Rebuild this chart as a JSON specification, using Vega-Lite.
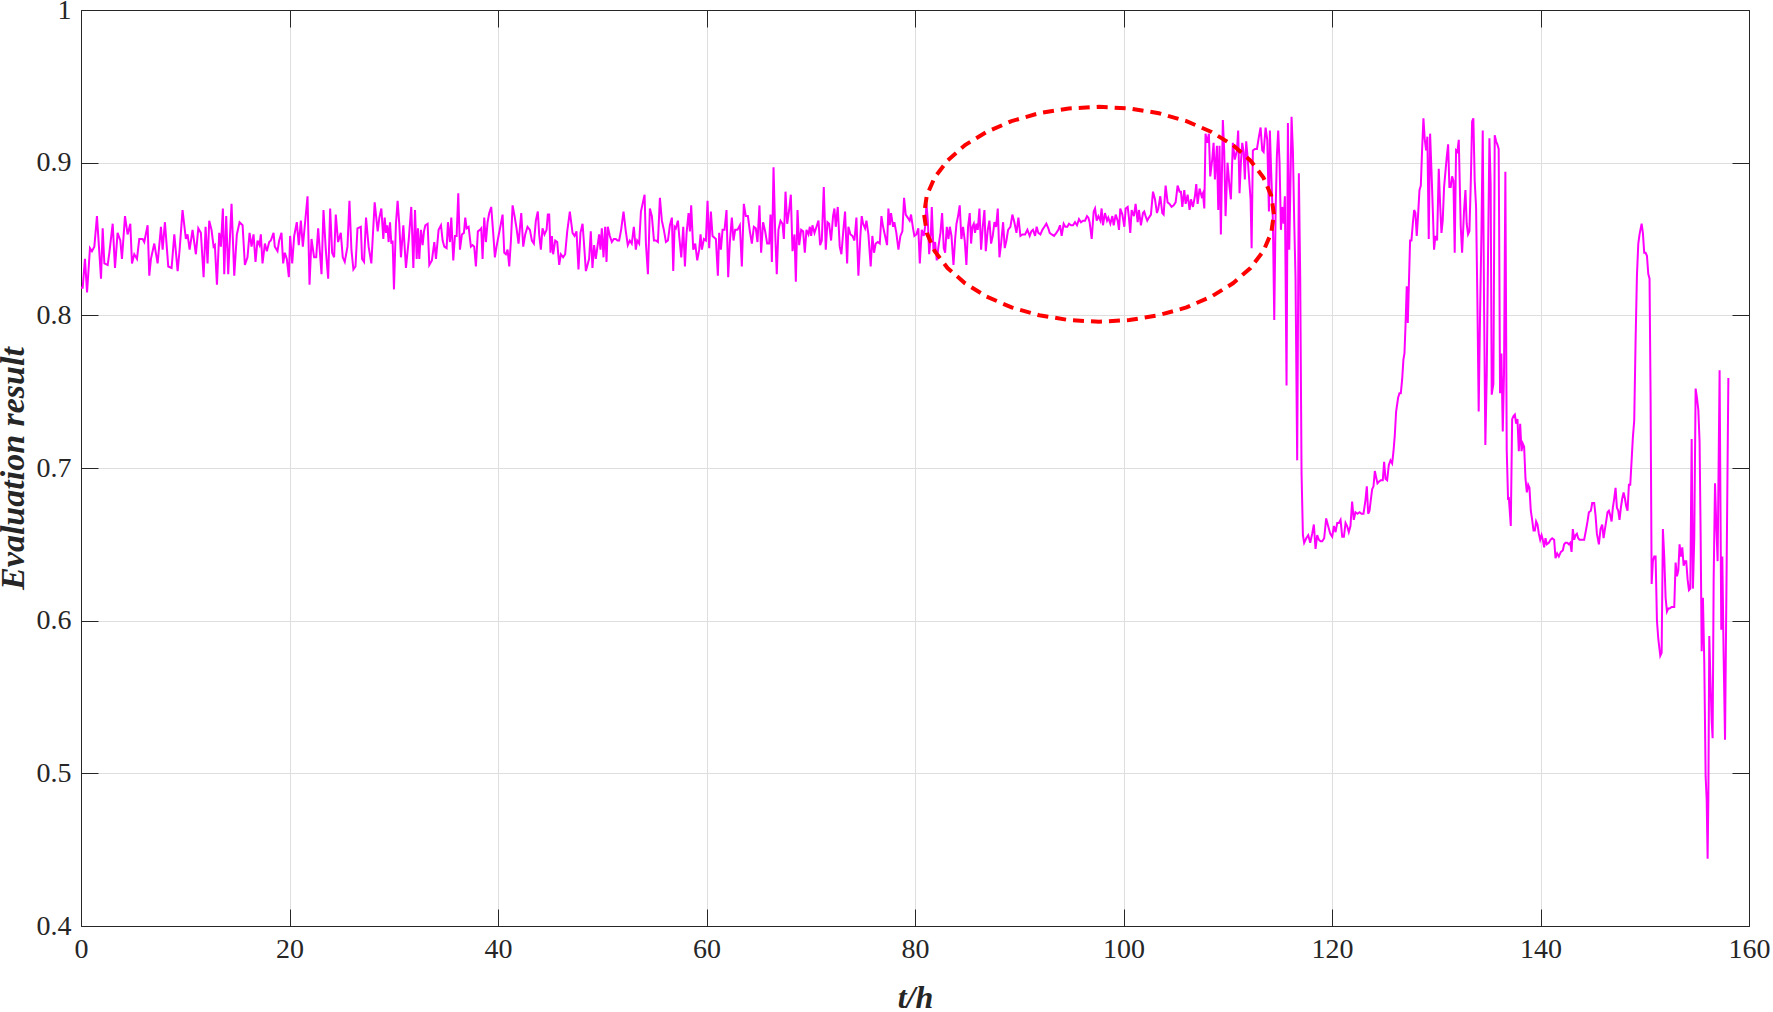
{
"$schema": "https://vega.github.io/schema/vega-lite/v6.json",
"width": 1668,
"height": 916,
"autosize": "none",
"padding": {"left": 81, "top": 10, "right": 24, "bottom": 86},
"background": "white",
"config": {
  "view": {"stroke": null},
  "font": "Liberation Serif",
  "axis": {
    "domainColor": "#262626", "domainWidth": 1, "tickColor": "#262626", "tickWidth": 1,
    "labelColor": "#262626", "labelFont": "Liberation Serif", "labelFontSize": 28,
    "titleFont": "Liberation Serif", "titleFontSize": 32, "titleFontWeight": "bold", "titleFontStyle": "italic", "titleColor": "#262626",
    "gridColor": "#dedede", "gridWidth": 1, "labelOverlap": false, "labelFlush": false
  }
},
"datasets": {
"main": [
{"t":0,"v":0.818},{"t":0.16,"v":0.818},{"t":0.38,"v":0.837},{"t":0.58,"v":0.815},{"t":0.86,"v":0.844},{"t":1.05,"v":0.842},{"t":1.28,"v":0.845},{"t":1.53,"v":0.865},{"t":1.76,"v":0.841},{"t":1.92,"v":0.824},{"t":2.08,"v":0.857},{"t":2.24,"v":0.834},{"t":2.56,"v":0.833},{"t":2.72,"v":0.841},{"t":3.04,"v":0.86},{"t":3.26,"v":0.831},{"t":3.51,"v":0.854},{"t":3.77,"v":0.849},{"t":3.93,"v":0.837},{"t":4.22,"v":0.865},{"t":4.47,"v":0.853},{"t":4.73,"v":0.86},{"t":4.89,"v":0.834},{"t":5.11,"v":0.84},{"t":5.37,"v":0.837},{"t":5.59,"v":0.85},{"t":5.91,"v":0.85},{"t":6.07,"v":0.848},{"t":6.39,"v":0.859},{"t":6.55,"v":0.826},{"t":6.71,"v":0.837},{"t":7.03,"v":0.847},{"t":7.35,"v":0.834},{"t":7.67,"v":0.858},{"t":7.83,"v":0.843},{"t":8.05,"v":0.861},{"t":8.37,"v":0.832},{"t":8.69,"v":0.831},{"t":8.95,"v":0.853},{"t":9.27,"v":0.829},{"t":9.46,"v":0.843},{"t":9.74,"v":0.869},{"t":10.06,"v":0.85},{"t":10.22,"v":0.853},{"t":10.42,"v":0.843},{"t":10.7,"v":0.856},{"t":11.02,"v":0.84},{"t":11.25,"v":0.857},{"t":11.5,"v":0.854},{"t":11.76,"v":0.825},{"t":11.95,"v":0.858},{"t":12.14,"v":0.834},{"t":12.3,"v":0.862},{"t":12.52,"v":0.856},{"t":12.72,"v":0.845},{"t":12.84,"v":0.846},{"t":13.04,"v":0.82},{"t":13.26,"v":0.854},{"t":13.42,"v":0.845},{"t":13.61,"v":0.87},{"t":13.74,"v":0.827},{"t":13.93,"v":0.865},{"t":14.12,"v":0.827},{"t":14.44,"v":0.873},{"t":14.7,"v":0.826},{"t":14.95,"v":0.853},{"t":15.21,"v":0.861},{"t":15.5,"v":0.859},{"t":15.72,"v":0.833},{"t":15.97,"v":0.838},{"t":16.17,"v":0.854},{"t":16.36,"v":0.845},{"t":16.55,"v":0.853},{"t":16.74,"v":0.835},{"t":16.93,"v":0.849},{"t":17.12,"v":0.846},{"t":17.25,"v":0.853},{"t":17.41,"v":0.834},{"t":17.64,"v":0.847},{"t":17.83,"v":0.842},{"t":18.05,"v":0.848},{"t":18.21,"v":0.849},{"t":18.47,"v":0.854},{"t":18.59,"v":0.845},{"t":18.85,"v":0.842},{"t":19.01,"v":0.849},{"t":19.23,"v":0.854},{"t":19.39,"v":0.834},{"t":19.55,"v":0.841},{"t":19.74,"v":0.837},{"t":19.94,"v":0.825},{"t":20.06,"v":0.852},{"t":20.26,"v":0.834},{"t":20.45,"v":0.852},{"t":20.7,"v":0.861},{"t":20.89,"v":0.846},{"t":21.09,"v":0.862},{"t":21.28,"v":0.845},{"t":21.47,"v":0.859},{"t":21.73,"v":0.878},{"t":21.92,"v":0.82},{"t":22.11,"v":0.85},{"t":22.36,"v":0.838},{"t":22.56,"v":0.838},{"t":22.75,"v":0.857},{"t":23.07,"v":0.827},{"t":23.26,"v":0.869},{"t":23.48,"v":0.843},{"t":23.71,"v":0.824},{"t":23.9,"v":0.87},{"t":24.09,"v":0.841},{"t":24.28,"v":0.838},{"t":24.44,"v":0.866},{"t":24.66,"v":0.848},{"t":24.92,"v":0.854},{"t":25.11,"v":0.838},{"t":25.3,"v":0.835},{"t":25.56,"v":0.845},{"t":25.75,"v":0.875},{"t":25.94,"v":0.843},{"t":26.13,"v":0.83},{"t":26.33,"v":0.832},{"t":26.52,"v":0.857},{"t":26.84,"v":0.858},
{"t":26.96,"v":0.837},{"t":27.15,"v":0.835},{"t":27.34,"v":0.864},{"t":27.59,"v":0.845},{"t":27.85,"v":0.834},{"t":28.17,"v":0.874},{"t":28.46,"v":0.855},{"t":28.62,"v":0.864},{"t":28.81,"v":0.87},{"t":29,"v":0.85},{"t":29.13,"v":0.864},{"t":29.26,"v":0.854},{"t":29.38,"v":0.859},{"t":29.51,"v":0.848},{"t":29.64,"v":0.861},{"t":29.77,"v":0.847},{"t":29.89,"v":0.849},{"t":30.02,"v":0.817},{"t":30.21,"v":0.86},{"t":30.37,"v":0.875},{"t":30.53,"v":0.86},{"t":30.69,"v":0.838},{"t":30.92,"v":0.859},{"t":31.17,"v":0.831},{"t":31.43,"v":0.849},{"t":31.68,"v":0.871},{"t":31.88,"v":0.831},{"t":32.04,"v":0.869},{"t":32.2,"v":0.837},{"t":32.32,"v":0.857},{"t":32.45,"v":0.837},{"t":32.61,"v":0.856},{"t":32.77,"v":0.846},{"t":32.9,"v":0.855},{"t":33.03,"v":0.859},{"t":33.25,"v":0.86},{"t":33.41,"v":0.833},{"t":33.66,"v":0.836},{"t":33.89,"v":0.848},{"t":34.05,"v":0.837},{"t":34.3,"v":0.856},{"t":34.53,"v":0.859},{"t":34.69,"v":0.849},{"t":34.85,"v":0.845},{"t":35.07,"v":0.844},{"t":35.2,"v":0.861},{"t":35.39,"v":0.848},{"t":35.52,"v":0.864},{"t":35.71,"v":0.836},{"t":35.87,"v":0.852},{"t":36.03,"v":0.852},{"t":36.19,"v":0.88},{"t":36.35,"v":0.843},{"t":36.54,"v":0.853},{"t":36.73,"v":0.854},{"t":36.86,"v":0.864},{"t":36.99,"v":0.857},{"t":37.18,"v":0.858},{"t":37.4,"v":0.845},{"t":37.56,"v":0.846},{"t":37.72,"v":0.845},{"t":37.88,"v":0.832},{"t":38.07,"v":0.855},{"t":38.27,"v":0.856},{"t":38.39,"v":0.857},{"t":38.52,"v":0.837},{"t":38.68,"v":0.864},{"t":38.84,"v":0.848},{"t":39,"v":0.861},{"t":39.16,"v":0.867},{"t":39.35,"v":0.871},{"t":39.54,"v":0.854},{"t":39.7,"v":0.838},{"t":39.86,"v":0.845},{"t":40.05,"v":0.852},{"t":40.25,"v":0.859},{"t":40.44,"v":0.866},{"t":40.6,"v":0.841},{"t":40.76,"v":0.84},{"t":40.92,"v":0.843},{"t":41.08,"v":0.832},{"t":41.24,"v":0.849},{"t":41.4,"v":0.872},{"t":41.59,"v":0.865},{"t":41.78,"v":0.857},{"t":41.97,"v":0.847},{"t":42.23,"v":0.867},{"t":42.42,"v":0.845},{"t":42.61,"v":0.853},{"t":42.83,"v":0.858},{"t":43.06,"v":0.856},{"t":43.25,"v":0.849},{"t":43.44,"v":0.847},{"t":43.63,"v":0.862},{"t":43.82,"v":0.868},{"t":43.95,"v":0.853},{"t":44.11,"v":0.843},{"t":44.27,"v":0.857},{"t":44.46,"v":0.853},{"t":44.66,"v":0.856},{"t":44.78,"v":0.866},{"t":44.91,"v":0.866},{"t":45.04,"v":0.841},{"t":45.17,"v":0.852},{"t":45.29,"v":0.84},{"t":45.49,"v":0.849},{"t":45.68,"v":0.848},{"t":45.87,"v":0.833},{"t":46.03,"v":0.84},{"t":46.25,"v":0.838},{"t":46.44,"v":0.84},{"t":46.64,"v":0.855},{"t":46.89,"v":0.868},{"t":47.15,"v":0.854},{"t":47.34,"v":0.852},{"t":47.53,"v":0.855},{"t":47.72,"v":0.83},{"t":47.91,"v":0.854},{"t":48.11,"v":0.86},{"t":48.23,"v":0.849},{"t":48.43,"v":0.829},{"t":48.55,"v":0.832},{"t":48.74,"v":0.837},{"t":48.9,"v":0.855},{"t":49.06,"v":0.831},{"t":49.22,"v":0.846},{"t":49.38,"v":0.837},{"t":49.54,"v":0.845},{"t":49.7,"v":0.853},{"t":49.83,"v":0.843},{"t":49.96,"v":0.857},{"t":50.12,"v":0.838},{"t":50.28,"v":0.858},{"t":50.41,"v":0.835},{"t":50.53,"v":0.858},{"t":50.73,"v":0.852},{"t":50.92,"v":0.848},{"t":51.11,"v":0.85},{"t":51.3,"v":0.85},{"t":51.46,"v":0.849},{"t":51.62,"v":0.849},{"t":51.81,"v":0.856},{"t":52.04,"v":0.868},{"t":52.26,"v":0.855},{"t":52.45,"v":0.846},{"t":52.64,"v":0.849},{"t":52.83,"v":0.847},{"t":53.03,"v":0.858},{"t":53.22,"v":0.843},{"t":53.35,"v":0.849},{"t":53.54,"v":0.847},
{"t":53.71,"v":0.868},{"t":53.87,"v":0.873},{"t":54.06,"v":0.879},{"t":54.19,"v":0.847},{"t":54.38,"v":0.827},{"t":54.57,"v":0.87},{"t":54.76,"v":0.865},{"t":54.96,"v":0.849},{"t":55.15,"v":0.849},{"t":55.34,"v":0.848},{"t":55.53,"v":0.877},{"t":55.72,"v":0.862},{"t":55.91,"v":0.856},{"t":56.11,"v":0.848},{"t":56.3,"v":0.849},{"t":56.49,"v":0.859},{"t":56.68,"v":0.864},{"t":56.81,"v":0.829},{"t":56.94,"v":0.858},{"t":57.06,"v":0.857},{"t":57.26,"v":0.862},{"t":57.38,"v":0.852},{"t":57.58,"v":0.838},{"t":57.77,"v":0.858},{"t":57.93,"v":0.832},{"t":58.09,"v":0.854},{"t":58.28,"v":0.867},{"t":58.41,"v":0.855},{"t":58.53,"v":0.872},{"t":58.73,"v":0.843},{"t":58.92,"v":0.847},{"t":59.11,"v":0.836},{"t":59.3,"v":0.843},{"t":59.43,"v":0.853},{"t":59.56,"v":0.843},{"t":59.75,"v":0.85},{"t":59.94,"v":0.849},{"t":60.1,"v":0.875},{"t":60.26,"v":0.844},{"t":60.42,"v":0.868},{"t":60.58,"v":0.852},{"t":60.9,"v":0.85},{"t":61.09,"v":0.826},{"t":61.22,"v":0.854},{"t":61.38,"v":0.843},{"t":61.54,"v":0.856},{"t":61.73,"v":0.856},{"t":61.92,"v":0.869},{"t":62.08,"v":0.825},{"t":62.24,"v":0.848},{"t":62.43,"v":0.864},{"t":62.59,"v":0.849},{"t":62.75,"v":0.856},{"t":62.97,"v":0.856},{"t":63.2,"v":0.859},{"t":63.39,"v":0.832},{"t":63.58,"v":0.873},{"t":63.77,"v":0.865},{"t":63.97,"v":0.865},{"t":64.16,"v":0.855},{"t":64.35,"v":0.847},{"t":64.54,"v":0.858},{"t":64.73,"v":0.857},{"t":64.89,"v":0.848},{"t":65.08,"v":0.872},{"t":65.24,"v":0.841},{"t":65.43,"v":0.861},{"t":65.63,"v":0.855},{"t":65.82,"v":0.847},{"t":66.01,"v":0.847},{"t":66.14,"v":0.866},{"t":66.27,"v":0.835},{"t":66.43,"v":0.897},{"t":66.59,"v":0.854},{"t":66.74,"v":0.827},{"t":66.9,"v":0.856},{"t":67.1,"v":0.862},{"t":67.29,"v":0.86},{"t":67.42,"v":0.85},{"t":67.58,"v":0.881},{"t":67.74,"v":0.86},{"t":67.93,"v":0.869},{"t":68.09,"v":0.879},{"t":68.25,"v":0.842},{"t":68.44,"v":0.853},{"t":68.57,"v":0.822},{"t":68.73,"v":0.869},{"t":68.89,"v":0.846},{"t":69.08,"v":0.856},{"t":69.27,"v":0.855},{"t":69.43,"v":0.841},{"t":69.59,"v":0.856},{"t":69.78,"v":0.853},{"t":69.91,"v":0.858},{"t":70.04,"v":0.852},{"t":70.16,"v":0.859},{"t":70.36,"v":0.854},{"t":70.55,"v":0.858},{"t":70.74,"v":0.862},{"t":70.9,"v":0.846},{"t":71.06,"v":0.849},{"t":71.25,"v":0.884},{"t":71.44,"v":0.843},{"t":71.6,"v":0.861},{"t":71.76,"v":0.86},{"t":71.95,"v":0.849},{"t":72.14,"v":0.865},{"t":72.27,"v":0.87},{"t":72.4,"v":0.858},{"t":72.59,"v":0.871},{"t":72.78,"v":0.845},{"t":72.94,"v":0.84},{"t":73.13,"v":0.856},{"t":73.29,"v":0.868},{"t":73.49,"v":0.834},{"t":73.61,"v":0.858},{"t":73.81,"v":0.853},{"t":74,"v":0.852},{"t":74.19,"v":0.849},{"t":74.38,"v":0.864},{"t":74.57,"v":0.826},{"t":74.76,"v":0.852},{"t":74.89,"v":0.865},{"t":75.02,"v":0.86},{"t":75.21,"v":0.857},{"t":75.34,"v":0.862},{"t":75.53,"v":0.853},{"t":75.75,"v":0.832},{"t":75.91,"v":0.852},{"t":76.07,"v":0.841},{"t":76.23,"v":0.847},{"t":76.43,"v":0.848},{"t":76.62,"v":0.847},{"t":76.78,"v":0.865},{"t":76.94,"v":0.858},{"t":77.13,"v":0.852},{"t":77.32,"v":0.846},{"t":77.45,"v":0.87},{"t":77.58,"v":0.859},{"t":77.7,"v":0.867},{"t":77.9,"v":0.858},{"t":78.02,"v":0.861},{"t":78.21,"v":0.854},{"t":78.41,"v":0.843},{"t":78.6,"v":0.852},{"t":78.79,"v":0.855},{"t":78.95,"v":0.877},{"t":79.11,"v":0.866},{"t":79.3,"v":0.864},{"t":79.49,"v":0.862},{"t":79.62,"v":0.866},{"t":79.81,"v":0.857},{"t":79.94,"v":0.852},{"t":80.13,"v":0.853},{"t":80.32,"v":0.857},
{"t":80.46,"v":0.834},{"t":80.65,"v":0.856},{"t":80.84,"v":0.852},{"t":80.97,"v":0.858},{"t":81.1,"v":0.873},{"t":81.23,"v":0.862},{"t":81.36,"v":0.84},{"t":81.52,"v":0.853},{"t":81.61,"v":0.871},{"t":81.77,"v":0.843},{"t":81.93,"v":0.848},{"t":82.09,"v":0.836},{"t":82.25,"v":0.845},{"t":82.44,"v":0.854},{"t":82.6,"v":0.867},{"t":82.76,"v":0.844},{"t":82.89,"v":0.841},{"t":83.05,"v":0.858},{"t":83.21,"v":0.85},{"t":83.34,"v":0.858},{"t":83.5,"v":0.852},{"t":83.69,"v":0.833},{"t":83.85,"v":0.85},{"t":83.98,"v":0.86},{"t":84.13,"v":0.865},{"t":84.29,"v":0.872},{"t":84.45,"v":0.85},{"t":84.61,"v":0.858},{"t":84.77,"v":0.849},{"t":84.93,"v":0.833},{"t":85.09,"v":0.858},{"t":85.25,"v":0.867},{"t":85.38,"v":0.847},{"t":85.51,"v":0.858},{"t":85.64,"v":0.86},{"t":85.76,"v":0.854},{"t":85.89,"v":0.86},{"t":86.02,"v":0.856},{"t":86.18,"v":0.87},{"t":86.34,"v":0.843},{"t":86.5,"v":0.858},{"t":86.66,"v":0.869},{"t":86.79,"v":0.842},{"t":86.98,"v":0.856},{"t":87.14,"v":0.862},{"t":87.3,"v":0.847},{"t":87.46,"v":0.852},{"t":87.62,"v":0.861},{"t":87.78,"v":0.858},{"t":87.94,"v":0.87},{"t":88.1,"v":0.838},{"t":88.26,"v":0.847},{"t":88.45,"v":0.861},{"t":88.61,"v":0.844},{"t":88.77,"v":0.849},{"t":88.93,"v":0.856},{"t":89.15,"v":0.858},{"t":89.34,"v":0.866},{"t":89.53,"v":0.861},{"t":89.73,"v":0.854},{"t":89.92,"v":0.864},{"t":90.11,"v":0.852},{"t":90.3,"v":0.853},{"t":90.56,"v":0.853},{"t":90.78,"v":0.856},{"t":91,"v":0.852},{"t":91.16,"v":0.855},{"t":91.32,"v":0.856},{"t":91.52,"v":0.852},{"t":91.67,"v":0.858},{"t":91.83,"v":0.854},{"t":92.03,"v":0.853},{"t":92.22,"v":0.856},{"t":92.41,"v":0.858},{"t":92.6,"v":0.86},{"t":92.79,"v":0.857},{"t":92.92,"v":0.854},{"t":93.11,"v":0.853},{"t":93.34,"v":0.852},{"t":93.56,"v":0.854},{"t":93.75,"v":0.856},{"t":93.91,"v":0.859},{"t":94.07,"v":0.852},{"t":94.26,"v":0.86},{"t":94.42,"v":0.858},{"t":94.61,"v":0.858},{"t":94.77,"v":0.86},{"t":94.97,"v":0.859},{"t":95.16,"v":0.859},{"t":95.35,"v":0.861},{"t":95.54,"v":0.859},{"t":95.73,"v":0.863},{"t":95.92,"v":0.861},{"t":96.12,"v":0.862},{"t":96.31,"v":0.862},{"t":96.5,"v":0.865},{"t":96.63,"v":0.864},{"t":96.75,"v":0.861},{"t":96.95,"v":0.85},{"t":97.14,"v":0.868},{"t":97.27,"v":0.87},{"t":97.43,"v":0.862},{"t":97.59,"v":0.865},{"t":97.78,"v":0.862},{"t":97.9,"v":0.87},{"t":98.03,"v":0.859},{"t":98.22,"v":0.867},{"t":98.42,"v":0.862},{"t":98.54,"v":0.864},{"t":98.74,"v":0.86},{"t":98.93,"v":0.865},{"t":99.06,"v":0.859},{"t":99.25,"v":0.866},{"t":99.44,"v":0.862},{"t":99.57,"v":0.856},{"t":99.69,"v":0.87},{"t":99.89,"v":0.866},{"t":100.08,"v":0.858},{"t":100.21,"v":0.87},{"t":100.4,"v":0.871},{"t":100.52,"v":0.864},{"t":100.65,"v":0.854},{"t":100.78,"v":0.869},{"t":101,"v":0.865},{"t":101.16,"v":0.873},{"t":101.36,"v":0.861},{"t":101.48,"v":0.869},{"t":101.67,"v":0.859},{"t":101.87,"v":0.867},{"t":101.99,"v":0.868},{"t":102.12,"v":0.865},{"t":102.28,"v":0.862},{"t":102.44,"v":0.864},{"t":102.63,"v":0.866},{"t":102.83,"v":0.881},{"t":103.02,"v":0.876},{"t":103.21,"v":0.867},{"t":103.34,"v":0.87},{"t":103.53,"v":0.878},{"t":103.72,"v":0.867},{"t":103.85,"v":0.866},{"t":104.04,"v":0.885},{"t":104.23,"v":0.874},{"t":104.42,"v":0.873},{"t":104.61,"v":0.871},{"t":104.81,"v":0.872},{"t":105,"v":0.874},{"t":105.19,"v":0.885},{"t":105.38,"v":0.881},{"t":105.51,"v":0.881},{"t":105.64,"v":0.871},{"t":105.83,"v":0.882},{"t":105.96,"v":0.873},{"t":106.15,"v":0.879},{"t":106.34,"v":0.869},{"t":106.47,"v":0.876},{"t":106.66,"v":0.871},{"t":106.85,"v":0.878},{"t":106.98,"v":0.886},{"t":107.11,"v":0.873},{"t":107.3,"v":0.883},{"t":107.49,"v":0.878},{"t":107.62,"v":0.88},{"t":107.75,"v":0.87},{"t":107.87,"v":0.919},{"t":108.03,"v":0.913},{"t":108.19,"v":0.919},{"t":108.32,"v":0.891},{"t":108.51,"v":0.902},{"t":108.64,"v":0.913},{"t":108.77,"v":0.889},{"t":108.96,"v":0.911},{"t":109.09,"v":0.869},{"t":109.21,"v":0.911},{"t":109.34,"v":0.853},{"t":109.53,"v":0.928},{"t":109.66,"v":0.908},{"t":109.79,"v":0.865},{"t":109.98,"v":0.9},{"t":110.17,"v":0.884},{"t":110.3,"v":0.876},{"t":110.49,"v":0.913},{"t":110.68,"v":0.902},{"t":110.88,"v":0.908},{"t":111,"v":0.921},{"t":111.13,"v":0.88},{"t":111.26,"v":0.9},{"t":111.39,"v":0.913},{"t":111.52,"v":0.907},{"t":111.64,"v":0.889},{"t":111.77,"v":0.914},{"t":111.9,"v":0.904},
{"t":112.19,"v":0.876},{"t":112.29,"v":0.844},{"t":112.41,"v":0.908},{"t":112.61,"v":0.909},{"t":112.8,"v":0.909},{"t":112.99,"v":0.917},{"t":113.15,"v":0.923},{"t":113.31,"v":0.908},{"t":113.44,"v":0.907},{"t":113.63,"v":0.923},{"t":113.79,"v":0.915},{"t":113.95,"v":0.868},{"t":114.04,"v":0.921},{"t":114.17,"v":0.893},{"t":114.33,"v":0.862},{"t":114.46,"v":0.797},{"t":114.59,"v":0.867},{"t":114.71,"v":0.904},{"t":114.84,"v":0.921},{"t":114.97,"v":0.9},{"t":115.1,"v":0.856},{"t":115.22,"v":0.871},{"t":115.35,"v":0.86},{"t":115.48,"v":0.878},{"t":115.64,"v":0.754},{"t":115.77,"v":0.926},{"t":115.9,"v":0.843},{"t":116.02,"v":0.889},{"t":116.12,"v":0.93},{"t":116.25,"v":0.908},{"t":116.38,"v":0.86},{"t":116.5,"v":0.825},{"t":116.66,"v":0.705},{"t":116.82,"v":0.893},{"t":116.95,"v":0.825},{"t":117.08,"v":0.696},{"t":117.21,"v":0.656},{"t":117.33,"v":0.651},{"t":117.53,"v":0.654},{"t":117.72,"v":0.656},{"t":117.91,"v":0.651},{"t":118.1,"v":0.657},{"t":118.26,"v":0.663},{"t":118.42,"v":0.647},{"t":118.58,"v":0.656},{"t":118.74,"v":0.653},{"t":118.9,"v":0.652},{"t":119.06,"v":0.652},{"t":119.25,"v":0.654},{"t":119.44,"v":0.667},{"t":119.63,"v":0.662},{"t":119.83,"v":0.657},{"t":120.02,"v":0.655},{"t":120.18,"v":0.662},{"t":120.34,"v":0.658},{"t":120.5,"v":0.664},{"t":120.66,"v":0.664},{"t":120.82,"v":0.666},{"t":120.98,"v":0.655},{"t":121.14,"v":0.655},{"t":121.3,"v":0.664},{"t":121.45,"v":0.662},{"t":121.61,"v":0.658},{"t":121.77,"v":0.662},{"t":121.93,"v":0.678},{"t":122.09,"v":0.666},{"t":122.25,"v":0.671},{"t":122.45,"v":0.67},{"t":122.64,"v":0.671},{"t":122.83,"v":0.67},{"t":123.02,"v":0.67},{"t":123.21,"v":0.679},{"t":123.34,"v":0.688},{"t":123.47,"v":0.67},{"t":123.6,"v":0.672},{"t":123.72,"v":0.679},{"t":123.85,"v":0.686},{"t":123.98,"v":0.688},{"t":124.11,"v":0.698},{"t":124.23,"v":0.694},{"t":124.36,"v":0.69},{"t":124.49,"v":0.691},{"t":124.68,"v":0.692},{"t":124.87,"v":0.692},{"t":125,"v":0.704},{"t":125.13,"v":0.693},{"t":125.29,"v":0.692},{"t":125.45,"v":0.702},{"t":125.61,"v":0.705},{"t":125.77,"v":0.703},{"t":125.9,"v":0.711},{"t":126.02,"v":0.721},{"t":126.15,"v":0.737},{"t":126.34,"v":0.746},{"t":126.47,"v":0.749},{"t":126.6,"v":0.749},{"t":126.73,"v":0.758},{"t":126.85,"v":0.771},{"t":126.95,"v":0.775},{"t":127.05,"v":0.793},{"t":127.17,"v":0.819},{"t":127.27,"v":0.795},{"t":127.37,"v":0.819},{"t":127.49,"v":0.849},{"t":127.62,"v":0.849},{"t":127.75,"v":0.86},{"t":127.88,"v":0.869},{"t":128,"v":0.867},{"t":128.13,"v":0.852},{"t":128.26,"v":0.866},{"t":128.39,"v":0.882},{"t":128.52,"v":0.885},{"t":128.64,"v":0.908},{"t":128.77,"v":0.929},{"t":128.9,"v":0.915},{"t":129.03,"v":0.908},{"t":129.15,"v":0.917},{"t":129.28,"v":0.85},{"t":129.41,"v":0.919},{"t":129.54,"v":0.895},{"t":129.67,"v":0.869},{"t":129.79,"v":0.843},{"t":129.92,"v":0.852},{"t":130.08,"v":0.849},{"t":130.24,"v":0.896},{"t":130.37,"v":0.873},{"t":130.5,"v":0.854},{"t":130.62,"v":0.862},{"t":130.75,"v":0.884},{"t":130.88,"v":0.894},{"t":131.01,"v":0.904},{"t":131.14,"v":0.912},{"t":131.26,"v":0.884},{"t":131.39,"v":0.884},{"t":131.52,"v":0.891},{"t":131.65,"v":0.888},{"t":131.77,"v":0.841},{"t":131.9,"v":0.908},{"t":132.03,"v":0.907},{"t":132.16,"v":0.915},{"t":132.35,"v":0.858},{"t":132.48,"v":0.841},{"t":132.67,"v":0.869},{"t":132.8,"v":0.882},{"t":132.92,"v":0.86},{"t":133.05,"v":0.853},{"t":133.18,"v":0.855},{"t":133.31,"v":0.886},{"t":133.44,"v":0.927},{"t":133.56,"v":0.929},{"t":133.69,"v":0.888},{"t":133.82,"v":0.871},{"t":133.95,"v":0.808},{"t":134.07,"v":0.737},{"t":134.2,"v":0.799},{"t":134.33,"v":0.852},{"t":134.46,"v":0.921},{"t":134.59,"v":0.804},{"t":134.71,"v":0.715},{"t":134.84,"v":0.76},{"t":134.97,"v":0.841},{"t":135.1,"v":0.916},{"t":135.22,"v":0.886},{"t":135.32,"v":0.748},{"t":135.48,"v":0.755},{"t":135.61,"v":0.918},{"t":135.74,"v":0.914},{"t":135.86,"v":0.912},{"t":135.99,"v":0.909},{"t":136.12,"v":0.749},{"t":136.25,"v":0.775},{"t":136.38,"v":0.724},{"t":136.5,"v":0.762},{"t":136.63,"v":0.894},{"t":136.76,"v":0.712},{"t":136.89,"v":0.679},
{"t":136.96,"v":0.681},{"t":137.15,"v":0.662},{"t":137.28,"v":0.732},{"t":137.41,"v":0.734},{"t":137.54,"v":0.735},{"t":137.66,"v":0.729},{"t":137.79,"v":0.732},{"t":137.92,"v":0.711},{"t":138.05,"v":0.729},{"t":138.18,"v":0.711},{"t":138.3,"v":0.716},{"t":138.43,"v":0.714},{"t":138.56,"v":0.693},{"t":138.69,"v":0.684},{"t":138.82,"v":0.689},{"t":138.94,"v":0.687},{"t":139.07,"v":0.672},{"t":139.2,"v":0.666},{"t":139.33,"v":0.659},{"t":139.46,"v":0.659},{"t":139.58,"v":0.665},{"t":139.71,"v":0.663},{"t":139.84,"v":0.657},{"t":139.97,"v":0.653},{"t":140.1,"v":0.656},{"t":140.22,"v":0.653},{"t":140.35,"v":0.648},{"t":140.48,"v":0.654},{"t":140.61,"v":0.65},{"t":140.8,"v":0.651},{"t":140.96,"v":0.653},{"t":141.12,"v":0.654},{"t":141.31,"v":0.653},{"t":141.44,"v":0.641},{"t":141.6,"v":0.644},{"t":141.76,"v":0.642},{"t":141.95,"v":0.645},{"t":142.14,"v":0.646},{"t":142.27,"v":0.65},{"t":142.4,"v":0.651},{"t":142.56,"v":0.651},{"t":142.72,"v":0.65},{"t":142.85,"v":0.651},{"t":142.98,"v":0.645},{"t":143.1,"v":0.66},{"t":143.23,"v":0.653},{"t":143.36,"v":0.656},{"t":143.49,"v":0.657},{"t":143.62,"v":0.654},{"t":143.74,"v":0.653},{"t":144,"v":0.653},{"t":144.19,"v":0.653},{"t":144.38,"v":0.66},{"t":144.51,"v":0.665},{"t":144.64,"v":0.671},{"t":144.83,"v":0.672},{"t":144.96,"v":0.677},{"t":145.15,"v":0.677},{"t":145.28,"v":0.669},{"t":145.41,"v":0.657},{"t":145.6,"v":0.65},{"t":145.76,"v":0.66},{"t":145.92,"v":0.663},{"t":146.05,"v":0.654},{"t":146.18,"v":0.66},{"t":146.3,"v":0.665},{"t":146.43,"v":0.671},{"t":146.56,"v":0.672},{"t":146.69,"v":0.669},{"t":146.82,"v":0.665},{"t":146.94,"v":0.674},{"t":147.07,"v":0.68},{"t":147.2,"v":0.687},{"t":147.33,"v":0.674},{"t":147.46,"v":0.672},{"t":147.58,"v":0.666},{"t":147.71,"v":0.674},{"t":147.84,"v":0.68},{"t":147.97,"v":0.684},{"t":148.1,"v":0.68},{"t":148.22,"v":0.675},{"t":148.35,"v":0.672},{"t":148.48,"v":0.689},{"t":148.61,"v":0.689},{"t":148.74,"v":0.705},{"t":148.86,"v":0.72},{"t":148.99,"v":0.731},{"t":149.12,"v":0.783},{"t":149.25,"v":0.826},{"t":149.38,"v":0.847},{"t":149.5,"v":0.853},{"t":149.7,"v":0.86},{"t":149.82,"v":0.854},{"t":149.95,"v":0.841},{"t":150.08,"v":0.841},{"t":150.21,"v":0.839},{"t":150.34,"v":0.827},{"t":150.46,"v":0.824},{"t":150.56,"v":0.747},{"t":150.66,"v":0.624},{"t":150.78,"v":0.639},{"t":150.91,"v":0.642},{"t":151.04,"v":0.642},{"t":151.17,"v":0.6},{"t":151.3,"v":0.588},{"t":151.49,"v":0.577},{"t":151.62,"v":0.579},{"t":151.74,"v":0.66},{"t":151.87,"v":0.642},{"t":152,"v":0.615},{"t":152.13,"v":0.606},{"t":152.26,"v":0.608},{"t":152.38,"v":0.608},{"t":152.58,"v":0.609},{"t":152.83,"v":0.609},{"t":152.96,"v":0.638},{"t":153.09,"v":0.629},{"t":153.22,"v":0.633},{"t":153.34,"v":0.65},{"t":153.47,"v":0.642},{"t":153.6,"v":0.648},{"t":153.73,"v":0.636},{"t":153.86,"v":0.639},{"t":153.98,"v":0.639},{"t":154.11,"v":0.627},{"t":154.24,"v":0.62},{"t":154.37,"v":0.621},{"t":154.5,"v":0.719},{"t":154.62,"v":0.621},{"t":154.75,"v":0.654},{"t":154.88,"v":0.752},{"t":155.01,"v":0.746},{"t":155.14,"v":0.738},{"t":155.26,"v":0.717},{"t":155.36,"v":0.657},{"t":155.46,"v":0.58},{"t":155.58,"v":0.615},{"t":155.71,"v":0.573},{"t":155.84,"v":0.498},{"t":155.94,"v":0.483},{"t":156.03,"v":0.444},{"t":156.1,"v":0.483},{"t":156.19,"v":0.59},{"t":156.29,"v":0.564},{"t":156.42,"v":0.534},{"t":156.51,"v":0.523},{"t":156.61,"v":0.627},{"t":156.74,"v":0.69},{"t":156.86,"v":0.663},{"t":156.99,"v":0.639},{"t":157.18,"v":0.764},{"t":157.34,"v":0.594},{"t":157.44,"v":0.642},{"t":157.57,"v":0.576},{"t":157.7,"v":0.522},{"t":157.86,"v":0.639},{"t":158.02,"v":0.759}
],
"ellipse": [
{"k":0,"t":114.43,"v":0.8662},{"k":1,"t":114.17,"v":0.8784},{"k":2,"t":113.42,"v":0.8903},{"k":3,"t":112.18,"v":0.9014},{"k":4,"t":110.5,"v":0.9115},{"k":5,"t":108.44,"v":0.9201},{"k":6,"t":106.04,"v":0.9272},{"k":7,"t":103.39,"v":0.9324},{"k":8,"t":100.56,"v":0.9355},{"k":9,"t":97.65,"v":0.9366},{"k":10,"t":94.74,"v":0.9355},{"k":11,"t":91.91,"v":0.9324},{"k":12,"t":89.26,"v":0.9272},{"k":13,"t":86.86,"v":0.9201},{"k":14,"t":84.8,"v":0.9115},{"k":15,"t":83.12,"v":0.9014},{"k":16,"t":81.88,"v":0.8903},{"k":17,"t":81.13,"v":0.8784},{"k":18,"t":80.87,"v":0.8662},{"k":19,"t":81.13,"v":0.854},{"k":20,"t":81.88,"v":0.8421},{"k":21,"t":83.12,"v":0.831},{"k":22,"t":84.8,"v":0.821},{"k":23,"t":86.86,"v":0.8123},{"k":24,"t":89.26,"v":0.8052},{"k":25,"t":91.91,"v":0.8001},{"k":26,"t":94.74,"v":0.7969},{"k":27,"t":97.65,"v":0.7958},{"k":28,"t":100.56,"v":0.7969},{"k":29,"t":103.39,"v":0.8001},{"k":30,"t":106.04,"v":0.8052},{"k":31,"t":108.44,"v":0.8123},{"k":32,"t":110.5,"v":0.821},{"k":33,"t":112.18,"v":0.831},{"k":34,"t":113.42,"v":0.8421},{"k":35,"t":114.17,"v":0.854},{"k":36,"t":114.43,"v":0.8662}
]
},
"layer": [
{
  "data": {"name": "main"},
  "mark": {"type": "line", "color": "#FF00FF", "strokeWidth": 2, "clip": true},
  "encoding": {
    "x": {"field": "t", "type": "quantitative", "scale": {"domain": [0, 160], "nice": false, "zero": false},
      "axis": {"orient": "bottom", "values": [0,20,40,60,80,100,120,140,160], "format": "d", "title": "t/h", "grid": true, "tickSize": -17, "labelPadding": 26, "titlePadding": 19}},
    "y": {"field": "v", "type": "quantitative", "scale": {"domain": [0.4, 1], "nice": false, "zero": false},
      "axis": {"orient": "left", "values": [0.4,0.5,0.6,0.7,0.8,0.9,1], "format": ".1~f", "title": "Evaluation result", "titleFontSize": 34, "grid": true, "tickSize": -17, "labelPadding": 27, "titlePadding": 6}}
  }
},
{
  "data": {"name": "ellipse"},
  "mark": {"type": "line", "color": "#FF0000", "strokeWidth": 4, "strokeDash": [11, 7]},
  "encoding": {
    "x": {"field": "t", "type": "quantitative", "scale": {"domain": [0, 160], "nice": false, "zero": false},
      "axis": {"orient": "top", "values": [0,20,40,60,80,100,120,140,160], "labels": false, "title": null, "grid": false, "tickSize": -17}},
    "y": {"field": "v", "type": "quantitative", "scale": {"domain": [0.4, 1], "nice": false, "zero": false},
      "axis": {"orient": "right", "values": [0.4,0.5,0.6,0.7,0.8,0.9,1], "labels": false, "title": null, "grid": false, "tickSize": -17}},
    "order": {"field": "k", "type": "quantitative"}
  }
}
],
"resolve": {"axis": {"x": "independent", "y": "independent"}}
}
